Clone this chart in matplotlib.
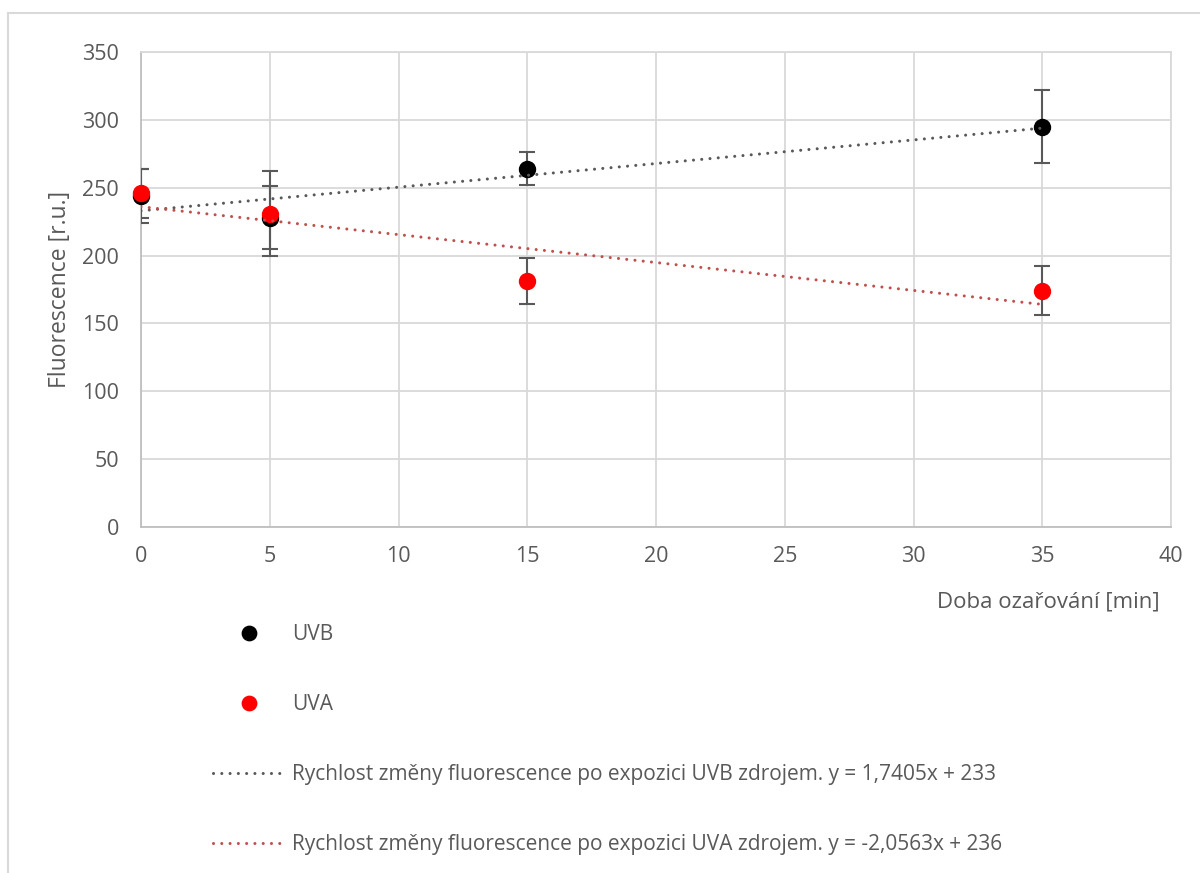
import matplotlib
matplotlib.use("Agg")
import matplotlib.pyplot as plt
from matplotlib.lines import Line2D
import numpy as np

plt.rcParams['font.family'] = ['Open Sans', 'DejaVu Sans']

# Irradiation time [min]
time_min = [0, 5, 15, 35]

# Fluorescence means and standard deviations
uvb_mean = [244, 228, 264, 295]
uvb_err = [20, 23, 12, 27]
uva_mean = [246, 231, 181, 174]
uva_err = [18, 31, 17, 18]

# Linear trend coefficients (slope, intercept)
uvb_trend = (1.7405, 233)
uva_trend = (-2.0563, 236)

series_names = ["UVB", "UVA"]
trend_label = "Rychlost změny fluorescence po expozici {} zdrojem. y = {}x + {}"

x_ticks = [0, 5, 10, 15, 20, 25, 30, 35, 40]
y_ticks = [0, 50, 100, 150, 200, 250, 300, 350]

TEXT = "#595959"
GRID = "#d9d9d9"

W, H = 1200, 873
fig = plt.figure(figsize=(W / 100, H / 100), dpi=100)
ax = fig.add_axes([141 / W, 1 - 527 / H, 1030 / W, 475 / H])

ax.set_xlim(0, 40)
ax.set_ylim(0, 350)
ax.set_xticks(x_ticks)
ax.set_yticks(y_ticks)
ax.grid(True, color=GRID, linewidth=1.3)
ax.set_axisbelow(True)
for side in ("top", "right"):
    ax.spines[side].set_color(GRID)
    ax.spines[side].set_linewidth(1.3)
for side in ("left", "bottom"):
    ax.spines[side].set_color("#bfbfbf")
    ax.spines[side].set_linewidth(1.3)
ax.tick_params(length=0, labelsize=15.5, labelcolor=TEXT)
ax.tick_params(axis="y", pad=16)
ax.tick_params(axis="x", pad=14)

marker_kw = dict(marker="o", markersize=11.5, linestyle="none", zorder=4, clip_on=False)
err_kw = dict(fmt="none", ecolor=TEXT, elinewidth=1.5, capsize=5.5, capthick=1.5, zorder=3)

def fmt_num(v):
    s = f"{v:.4f}".rstrip("0").rstrip(".") if abs(v - round(v)) > 1e-9 else f"{int(round(v))}"
    return s.replace(".", ",")

handles = []
for name, mean, err, color in ((series_names[0], uvb_mean, uvb_err, "black"),
                               (series_names[1], uva_mean, uva_err, "#ff0000")):
    ax.errorbar(time_min, mean, yerr=err, **err_kw)
    h, = ax.plot(time_min, mean, color=color, markeredgecolor=color, label=name, **marker_kw)
    handles.append(h)

xt = np.array([min(time_min), max(time_min)], dtype=float)
for name, (k, q), color in ((series_names[0], uvb_trend, "#595959"),
                            (series_names[1], uva_trend, "#c0504d")):
    h, = ax.plot(xt, k * xt + q, color=color, linewidth=2.2,
                 linestyle=(0, (0.01, 2.7)), dash_capstyle="round", zorder=5,
                 label=trend_label.format(name, fmt_num(k), fmt_num(q)))
    handles.append(h)

ax.set_ylabel("Fluorescence [r.u.]", fontsize=16.5, color=TEXT, va="center")
ax.yaxis.set_label_coords(-0.0786, 0.50)
ax.set_xlabel("Doba ozařování [min]", fontsize=16, color=TEXT, ha="right", va="center")
ax.xaxis.set_label_coords(0.9893, -0.158)

leg = fig.legend(handles=handles, loc="upper left", bbox_to_anchor=(213 / W, 1 - 624 / H),
                 frameon=False, fontsize=15, labelcolor=TEXT, borderpad=0, borderaxespad=0,
                 handlelength=3.45, handletextpad=0.35, labelspacing=2.35, markerscale=0.9)

# Outer chart border
fig.add_artist(Line2D([8 / W, 1], [1 - 13 / H, 1 - 13 / H], color=GRID, linewidth=1.5))
fig.add_artist(Line2D([8 / W, 8 / W], [0, 1 - 13 / H], color=GRID, linewidth=1.5))

fig.savefig("out.png", dpi=100, facecolor="white")
